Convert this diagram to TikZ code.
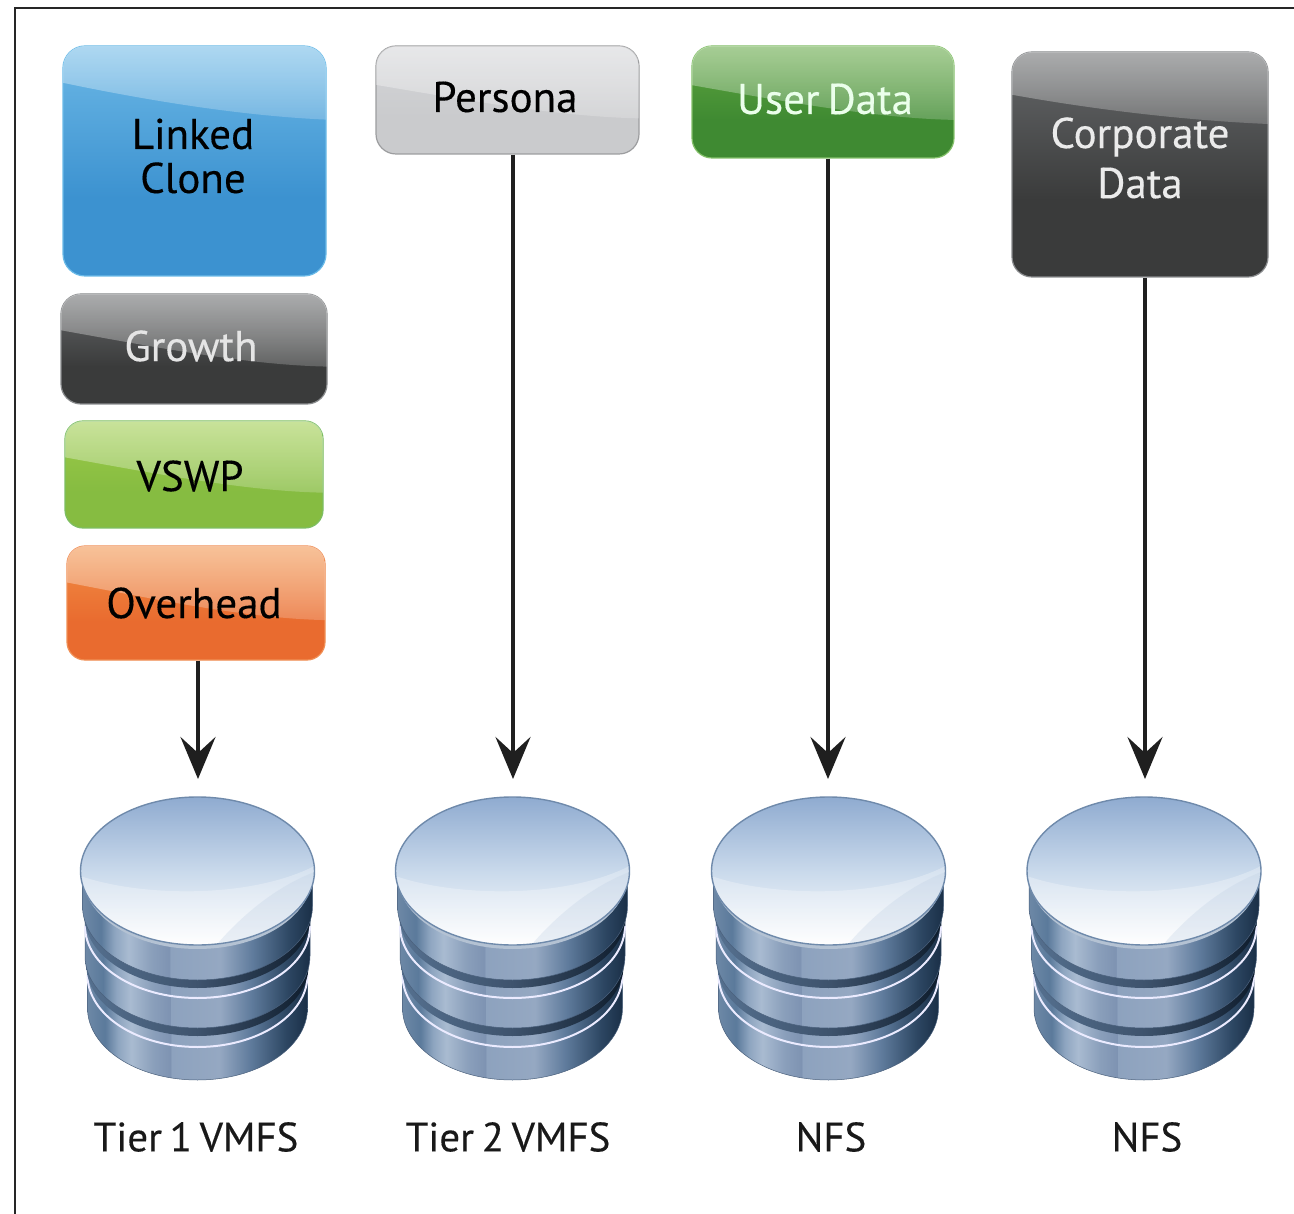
\documentclass[tikz,border=0pt]{standalone}
\usepackage{fontspec}
\setmainfont{PT Sans}
\newfontfamily\labelfont{PT Sans}[FakeBold=0.25,WordSpace=0.7]
\usetikzlibrary{arrows.meta,fadings}
\definecolor{dka}{HTML}{6D88A6}\definecolor{dkb}{HTML}{5B7A9B}\definecolor{dkc}{HTML}{8EA5C0}
\definecolor{dkd}{HTML}{A9BBD1}\definecolor{dke}{HTML}{8A9FBB}\definecolor{dkf}{HTML}{7E93B2}
\definecolor{dkg}{HTML}{8DA2BE}\definecolor{dkh}{HTML}{95A8C2}\definecolor{dki}{HTML}{5F7B9C}
\definecolor{dkj}{HTML}{2D4763}\definecolor{dkk}{HTML}{1A2F47}
\definecolor{sha}{HTML}{55708F}\definecolor{shb}{HTML}{3E536D}\definecolor{shc}{HTML}{0E1C2C}
\definecolor{tpa}{HTML}{FFFFFF}\definecolor{tpb}{HTML}{C9D9EB}\definecolor{tpc}{HTML}{8FABD0}
\definecolor{diskedge}{HTML}{6F8AAB}\definecolor{diskbase}{HTML}{B4C2D3}\definecolor{diskwedge}{HTML}{BFCFE3}\definecolor{sideedge}{HTML}{4A607C}
\pgfdeclarehorizontalshading{diskside}{100bp}{color(0bp)=(dka);color(25bp)=(dka);color(29bp)=(dkb);color(32bp)=(dkc);color(35bp)=(dkd);color(40bp)=(dke);color(43.9bp)=(dkf);color(44bp)=(dkg);color(55bp)=(dkh);color(62bp)=(dki);color(70bp)=(dkj);color(75bp)=(dkk);color(100bp)=(dkk)}
\pgfdeclarehorizontalshading{diskshadow}{100bp}{color(0bp)=(sha);color(25bp)=(sha);color(50bp)=(shb);color(75bp)=(shc);color(100bp)=(shc)}
\pgfdeclareverticalshading{disktop}{100bp}{color(0bp)=(tpa);color(25bp)=(tpa);color(50bp)=(tpb);color(75bp)=(tpc);color(100bp)=(tpc)}
\pgfdeclareverticalshading[glt,glb]{glass}{100bp}{color(0bp)=(glb);color(25bp)=(glb);color(42bp)=(glb);color(75bp)=(glt);color(100bp)=(glt)}
\tikzfading[name=glossfade,top color=transparent!55,bottom color=transparent!80]
\tikzset{
  glassbox/.style={draw=glr,line width=1.2pt,rounded corners=#1,shading=glass,inner sep=0pt},
  boxlabel/.style={font=\labelfont\fontsize{43}{44}\selectfont,align=center,inner sep=0pt},
  tierlabel/.style={font=\labelfont\fontsize{41}{42}\selectfont,inner sep=0pt,text=black!90},
  flow/.style={line width=4pt,draw=black!88,-{Stealth[length=42pt,width=35pt,inset=16pt]}}
}
% name, x0,y0,x1,y1, radius, top, bottom, border
\newcommand\glasspanel[9]{%
  \colorlet{glt}{#7}\colorlet{glb}{#8}\colorlet{glr}{#9}%
  \node[glassbox=#6,minimum width={(#4-#2)*1pt},minimum height={(#5-#3)*1pt}] (#1) at ({(#2+#4)/2},{(#3+#5)/2}) {};%
}
\newcommand\glossover[7]{% x0,y0,x1,y1,r,fracL,fracR
  \begin{scope}
    \clip[rounded corners=#5] (#1,#2) rectangle (#3,#4);
    \fill[white,path fading=glossfade] (#1,#2) -- (#1,{#2+(#4-#2)*#6}) .. controls ({#1+(#3-#1)*.35},{#2+(#4-#2)*(#6*.6+#7*.4+.02)}) and ({#1+(#3-#1)*.7},{#2+(#4-#2)*(#7-.015)}) .. (#3,{#2+(#4-#2)*#7}) -- (#3,#2) -- cycle;
  \end{scope}%
}
% r, ytop, cy, ry
\newcommand\disklayer[4]{%
  \path[shading=diskside,draw=sideedge,line width=.5pt] (-#1,#2) -- (-#1,#3) .. controls (-#1,{#3+.5523*#4}) and ({-.5523*#1},{#3+#4}) .. (0,{#3+#4}) .. controls ({.5523*#1},{#3+#4}) and (#1,{#3+.5523*#4}) .. (#1,#3) -- (#1,#2) -- cycle;%
}
\newcommand\diskrim[3]{%
  \draw[white!92!blue,line width=2pt] (-#1,#2) .. controls (-#1,{#2+.5523*#3}) and ({-.5523*#1},{#2+#3}) .. (0,{#2+#3}) .. controls ({.5523*#1},{#2+#3}) and (#1,{#2+.5523*#3}) .. (#1,#2);%
}
\newcommand\diskshade[3]{%
  \path[shading=diskshadow] (-#1,{#2-20}) -- (-#1,#2) .. controls (-#1,{#2+.5523*#3}) and ({-.5523*#1},{#2+#3}) .. (0,{#2+#3}) .. controls ({.5523*#1},{#2+#3}) and (#1,{#2+.5523*#3}) .. (#1,#2) -- (#1,{#2-20}) -- cycle;%
}
\newcommand\diskicon[1]{%
  \begin{scope}[shift={(#1,0)}]
    \disklayer{110}{965}{1008}{72}
    \diskrim{110}{975}{72}
    \diskshade{111}{966}{70}
    \disklayer{112.5}{915}{956}{72}
    \diskrim{112.5}{926}{72}
    \diskshade{113}{916}{72}
    \disklayer{115}{875}{906}{74}
    \fill[diskbase] (0,875) ellipse [x radius=115pt,y radius=74pt];
    \begin{scope}
      \clip (0,871) ellipse [x radius=117pt,y radius=74pt];
      \path[shading=disktop] (-117,797) rectangle (117,945);
      \fill[white,opacity=.28] (-117,876) .. controls (-60,896) and (50,900) .. (117,866) -- (117,950) -- (-117,950) -- cycle;
      \fill[diskwedge,opacity=.3] (117,872) .. controls (75,888) and (40,920) .. (18,946) -- (117,950) -- cycle;
    \end{scope}
    \draw[diskedge,line width=1.4pt] (0,871) ellipse [x radius=117pt,y radius=74pt];
  \end{scope}%
}
\begin{document}
\begin{tikzpicture}[x=1pt,y=-1pt]
\useasboundingbox (0,0) rectangle (1294,1214);
\fill[white] (0,0) rectangle (1294,1214);
\draw[black!85,line width=2pt] (15,1214) -- (15,8) -- (1294,8);

\definecolor{lnkt}{HTML}{6CB8E6}\definecolor{lnkb}{HTML}{3C92D0}\definecolor{lnkr}{HTML}{6CBBE8}
\definecolor{pert}{HTML}{D4D5D8}\definecolor{perb}{HTML}{CACBCD}\definecolor{perr}{HTML}{9C9D9F}
\definecolor{usrt}{HTML}{5FA53F}\definecolor{usrb}{HTML}{3F8A32}\definecolor{usrr}{HTML}{84C06A}
\definecolor{cort}{HTML}{66686A}\definecolor{corb}{HTML}{3A3B3B}\definecolor{corr}{HTML}{8A8C8E}
\definecolor{vswt}{HTML}{9CCB48}\definecolor{vswb}{HTML}{86BC41}\definecolor{vswr}{HTML}{7DBE62}
\definecolor{ovht}{HTML}{F29046}\definecolor{ovhb}{HTML}{E96B2F}\definecolor{ovhr}{HTML}{F08F55}

\glasspanel{linked}{63}{46}{326}{276}{22}{lnkt}{lnkb}{lnkr}
\glossover{63}{46}{326}{276}{22}{.16}{.32}
\glasspanel{persona}{376}{46}{639}{154}{20}{pert}{perb}{perr}
\glossover{376}{46}{639}{154}{20}{.36}{.67}
\glasspanel{userdata}{692}{46}{954}{158}{20}{usrt}{usrb}{usrr}
\glossover{692}{46}{954}{158}{20}{.35}{.66}
\glasspanel{corporate}{1012}{52}{1268}{277}{20}{cort}{corb}{corr}
\glossover{1012}{52}{1268}{277}{20}{.19}{.32}
\glasspanel{growth}{61}{294}{327}{404}{20}{cort}{corb}{corr}
\glossover{61}{294}{327}{404}{20}{.33}{.66}
\glasspanel{vswp}{65}{421}{323}{528}{18}{vswt}{vswb}{vswr}
\glossover{65}{421}{323}{528}{18}{.34}{.67}
\glasspanel{overhead}{67}{546}{325}{660}{18}{ovht}{ovhb}{ovhr}
\glossover{67}{546}{325}{660}{18}{.32}{.65}

\node[boxlabel] (tlinked) at (193,156) {Linked\\Clone};
\node[boxlabel] (tpersona) at (505,97) {Persona};
\node[boxlabel,text=white!92!green] (tuser) at (825,99) {User Data};
\node[boxlabel,text=white!92!black,font=\labelfont\fontsize{43}{50}\selectfont] (tcorp) at (1140,158) {Corporate\\Data};
\node[boxlabel,text=white!90!black] (tgrowth) at (191,346) {Growth};
\node[boxlabel] (tvswp) at (190,476) {VSWP};
\node[boxlabel] (tover) at (194,603) {Overhead};

\diskicon{197.5}
\diskicon{512.5}
\diskicon{828.5}
\diskicon{1144}

\coordinate (tipa) at (198,779);
\coordinate (tipb) at (513,779);
\coordinate (tipc) at (828,779);
\coordinate (tipd) at (1145,779);
\draw[flow] (overhead.south -| tipa) -- (tipa);
\draw[flow] (persona.south -| tipb) -- (tipb);
\draw[flow] (userdata.south -| tipc) -- (tipc);
\draw[flow] (corporate.south -| tipd) -- (tipd);

\node[tierlabel] (la) at (196,1137) {Tier 1 VMFS};
\node[tierlabel] (lb) at (508,1137) {Tier 2 VMFS};
\node[tierlabel] (lc) at (831,1137) {NFS};
\node[tierlabel] (ld) at (1147,1137) {NFS};
\end{tikzpicture}
\end{document}
